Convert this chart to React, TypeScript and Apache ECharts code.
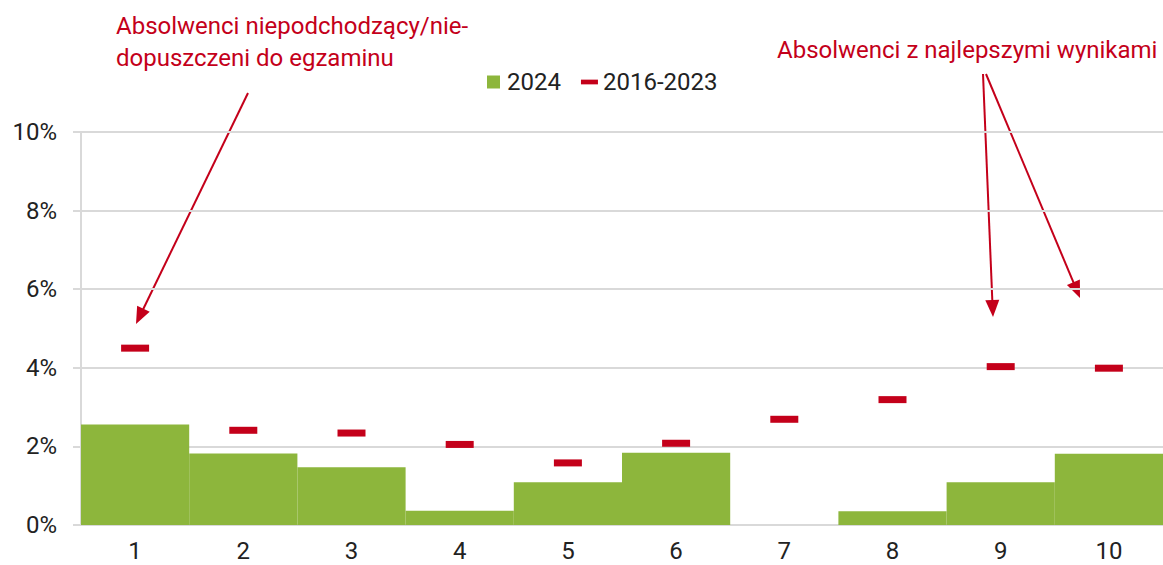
import React, { useEffect, useRef } from "react";
import * as echarts from "echarts";

const categories = ["1", "2", "3", "4", "5", "6", "7", "8", "9", "10"];
const values2024 = [2.56, 1.82, 1.47, 0.36, 1.09, 1.84, 0, 0.35, 1.09, 1.81];
const values2016_2023 = [4.5, 2.41, 2.34, 2.05, 1.58, 2.08, 2.69, 3.19, 4.03, 3.99];
const yTicks = [0, 2, 4, 6, 8, 10];

const GREEN = "#8DB63C";
const RED = "#C4001A";
const TEXT = "#222222";
const FONT = "Roboto, 'Noto Sans', sans-serif";

function arrow(x1: number, y1: number, x2: number, y2: number) {
  const dx = x2 - x1;
  const dy = y2 - y1;
  const len = Math.sqrt(dx * dx + dy * dy);
  const ux = dx / len;
  const uy = dy / len;
  const hl = 17;
  const hw = 7;
  const bx = x2 - ux * hl;
  const by = y2 - uy * hl;
  return [
    {
      type: "line",
      shape: { x1, y1, x2: bx + ux * 2, y2: by + uy * 2 },
      style: { stroke: RED, lineWidth: 2 },
      silent: true,
    },
    {
      type: "polygon",
      shape: {
        points: [
          [x2, y2],
          [bx - uy * hw, by + ux * hw],
          [bx + uy * hw, by - ux * hw],
        ],
      },
      style: { fill: RED },
      silent: true,
    },
  ];
}

export default function App() {
  const ref = useRef<HTMLDivElement>(null);
  useEffect(() => {
    if (!ref.current) return;
    const chart = echarts.init(ref.current, null, { renderer: "svg" });
    chart.setOption({
      animation: false,
      textStyle: { fontFamily: FONT },
      grid: { left: 81, right: 0, top: 132, bottom: 40, containLabel: false },
      legend: {
        top: 65,
        left: 482,
        itemGap: 20,
        itemWidth: 17,
        itemHeight: 13,
        symbolKeepAspect: true,
        textStyle: { fontSize: 24, color: TEXT, fontFamily: FONT },
        data: [
          {
            name: "2024",
            icon: "path://M0,0 L13,0 L13,13 L0,13 Z",
            itemStyle: { color: GREEN },
          },
          {
            name: "2016-2023",
            icon: "path://M0,0 L18,0 L18,5 L0,5 Z",
            itemStyle: { color: RED },
          },
        ],
      },
      xAxis: {
        type: "category",
        data: categories,
        axisLine: { show: true, lineStyle: { color: "#D9D9D9", width: 2 } },
        axisTick: { show: false },
        axisLabel: { fontSize: 24, color: TEXT, margin: 14, fontFamily: FONT },
      },
      yAxis: {
        type: "value",
        min: 0,
        max: 10,
        interval: 2,
        axisLine: { show: true, lineStyle: { color: "#D9D9D9", width: 2 } },
        axisTick: { show: true, length: 8, lineStyle: { color: "#D9D9D9", width: 2 } },
        splitLine: { show: true, lineStyle: { color: "#D9D9D9", width: 2 } },
        axisLabel: {
          fontSize: 24,
          color: TEXT,
          margin: 24,
          fontFamily: FONT,
          formatter: (v: number) => (yTicks.includes(v) ? `${v}%` : ""),
        },
      },
      series: [
        {
          name: "2024",
          type: "bar",
          data: values2024,
          barWidth: "100%",
          barCategoryGap: "0%",
          itemStyle: { color: GREEN },
          z: 2,
        },
        {
          name: "2016-2023",
          type: "scatter",
          data: values2016_2023,
          symbol: "rect",
          symbolSize: [28, 7],
          itemStyle: { color: RED, opacity: 1 },
          z: 3,
        },
      ],
      graphic: [
        {
          type: "text",
          left: 116,
          top: 10,
          style: {
            text: "Absolwenci niepodchodzący/nie-\ndopuszczeni do egzaminu",
            fill: RED,
            font: `24px ${FONT}`,
            lineHeight: 32,
          },
        },
        {
          type: "text",
          left: 777,
          top: 38,
          style: {
            text: "Absolwenci z najlepszymi wynikami",
            fill: RED,
            font: `24px ${FONT}`,
          },
        },
        ...arrow(248, 93, 136, 324),
        ...arrow(983, 74, 993, 317),
        ...arrow(986, 74, 1080, 298),
      ],
    });
    return () => chart.dispose();
  }, []);
  return (
    <div
      ref={ref}
      style={{ position: "fixed", left: 0, top: 0, width: 1163, height: 565, background: "#fff" }}
    />
  );
}
